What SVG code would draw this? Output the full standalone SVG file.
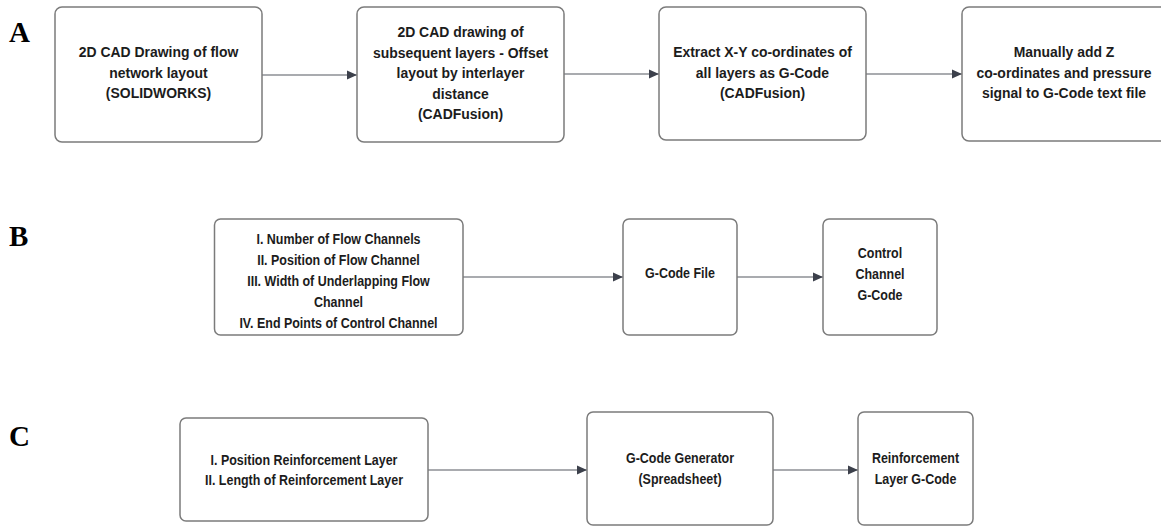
<svg xmlns="http://www.w3.org/2000/svg" width="1161" height="527" viewBox="0 0 1161 527">
  <defs>
    <marker id="arrow" viewBox="0 0 10 10" refX="10" refY="5" markerWidth="10" markerHeight="10" markerUnits="userSpaceOnUse" orient="auto">
      <path d="M0,0.5 L10,5 L0,9.5 Z" fill="#3c404b"/>
    </marker>
  </defs>
  <style>
    .box { fill: #ffffff; stroke: #7b7b7b; stroke-width: 1.5; }
    .edge { fill: none; stroke: #8c8f95; stroke-width: 1.5; marker-end: url(#arrow); }
    .t14 { font-family: "Liberation Sans", Arial, sans-serif; font-weight: bold; font-size: 15.5px; fill: #1c1c1c; text-anchor: middle; }
    .t12 { font-family: "Liberation Sans", Arial, sans-serif; font-weight: bold; font-size: 14px; fill: #1c1c1c; text-anchor: middle; }
    .lbl { font-family: "Liberation Serif", "Times New Roman", serif; font-weight: bold; font-size: 29px; fill: #000000; }
  </style>
  <rect width="1161" height="527" fill="#ffffff"/>

  <!-- panel letters -->
  <text class="lbl" x="9" y="42">A</text>
  <text class="lbl" x="9" y="246">B</text>
  <text class="lbl" x="9" y="446">C</text>

  <!-- connectors -->
  <g id="connectors">
    <line class="edge" x1="262" y1="75" x2="357" y2="75"/>
    <line class="edge" x1="564" y1="74" x2="659" y2="74"/>
    <line class="edge" x1="866" y1="74" x2="962" y2="74"/>
    <line class="edge" x1="463" y1="277" x2="623" y2="277"/>
    <line class="edge" x1="737" y1="277" x2="823" y2="277"/>
    <line class="edge" x1="428" y1="470" x2="587" y2="470"/>
    <line class="edge" x1="773" y1="470" x2="858" y2="470"/>
  </g>

  <!-- row A (labels narrowed horizontally) -->
  <g id="a1">
    <rect class="box" x="55" y="7" width="207" height="135" rx="7"/>
    <g transform="translate(158.5 0) scale(0.9 1)">
      <text class="t14" x="0" y="57.5">2D CAD Drawing of flow</text>
      <text class="t14" x="0" y="78">network layout</text>
      <text class="t14" x="0" y="98.5">(SOLIDWORKS)</text>
    </g>
  </g>
  <g id="a2">
    <rect class="box" x="357" y="7" width="207" height="135" rx="7"/>
    <g transform="translate(460.5 0) scale(0.9 1)">
      <text class="t14" x="0" y="37.5">2D CAD drawing  of</text>
      <text class="t14" x="0" y="58">subsequent layers - Offset</text>
      <text class="t14" x="0" y="78.5">layout by interlayer</text>
      <text class="t14" x="0" y="99">distance</text>
      <text class="t14" x="0" y="119.5">(CADFusion)</text>
    </g>
  </g>
  <g id="a3">
    <rect class="box" x="659" y="7" width="207" height="133" rx="7"/>
    <g transform="translate(762.5 0) scale(0.9 1)">
      <text class="t14" x="0" y="57.5">Extract X-Y co-ordinates of</text>
      <text class="t14" x="0" y="78">all layers as G-Code</text>
      <text class="t14" x="0" y="98.5">(CADFusion)</text>
    </g>
  </g>
  <g id="a4">
    <rect class="box" x="962" y="7" width="207" height="134" rx="7"/>
    <g transform="translate(1064 0) scale(0.9 1)">
      <text class="t14" x="0" y="57.5">Manually add Z</text>
      <text class="t14" x="0" y="78">co-ordinates and pressure</text>
      <text class="t14" x="0" y="98.5">signal to G-Code text file</text>
    </g>
  </g>

  <!-- row B -->
  <g id="b1">
    <rect class="box" x="214.5" y="219" width="248.5" height="116" rx="6"/>
    <g transform="translate(338.5 0) scale(0.89 1)">
      <text class="t12" x="0" y="244.5">I. Number of Flow Channels</text>
      <text class="t12" x="0" y="265.5">II. Position of Flow Channel</text>
      <text class="t12" x="0" y="286.5">III. Width of Underlapping Flow</text>
      <text class="t12" x="0" y="307.5">Channel</text>
      <text class="t12" x="0" y="328.5">IV. End Points of Control Channel</text>
    </g>
  </g>
  <g id="b2">
    <rect class="box" x="623" y="219" width="114" height="116" rx="6"/>
    <g transform="translate(680 0) scale(0.89 1)">
      <text class="t12" x="0" y="278.5">G-Code File</text>
    </g>
  </g>
  <g id="b3">
    <rect class="box" x="823" y="219" width="114" height="116" rx="6"/>
    <g transform="translate(880 0) scale(0.89 1)">
      <text class="t12" x="0" y="258.5">Control</text>
      <text class="t12" x="0" y="279.5">Channel</text>
      <text class="t12" x="0" y="300.5">G-Code</text>
    </g>
  </g>

  <!-- row C -->
  <g id="c1">
    <rect class="box" x="180" y="418" width="248" height="103" rx="6"/>
    <g transform="translate(304 0) scale(0.89 1)">
      <text class="t12" x="0" y="465.5">I. Position Reinforcement Layer</text>
      <text class="t12" x="0" y="485.5">II. Length of Reinforcement Layer</text>
    </g>
  </g>
  <g id="c2">
    <rect class="box" x="587" y="412" width="186" height="113" rx="6"/>
    <g transform="translate(680 0) scale(0.89 1)">
      <text class="t12" x="0" y="463.5">G-Code Generator</text>
      <text class="t12" x="0" y="484.5">(Spreadsheet)</text>
    </g>
  </g>
  <g id="c3">
    <rect class="box" x="858" y="412" width="115" height="113" rx="6"/>
    <g transform="translate(915.5 0) scale(0.89 1)">
      <text class="t12" x="0" y="463.5">Reinforcement</text>
      <text class="t12" x="0" y="484.5">Layer G-Code</text>
    </g>
  </g>
</svg>
